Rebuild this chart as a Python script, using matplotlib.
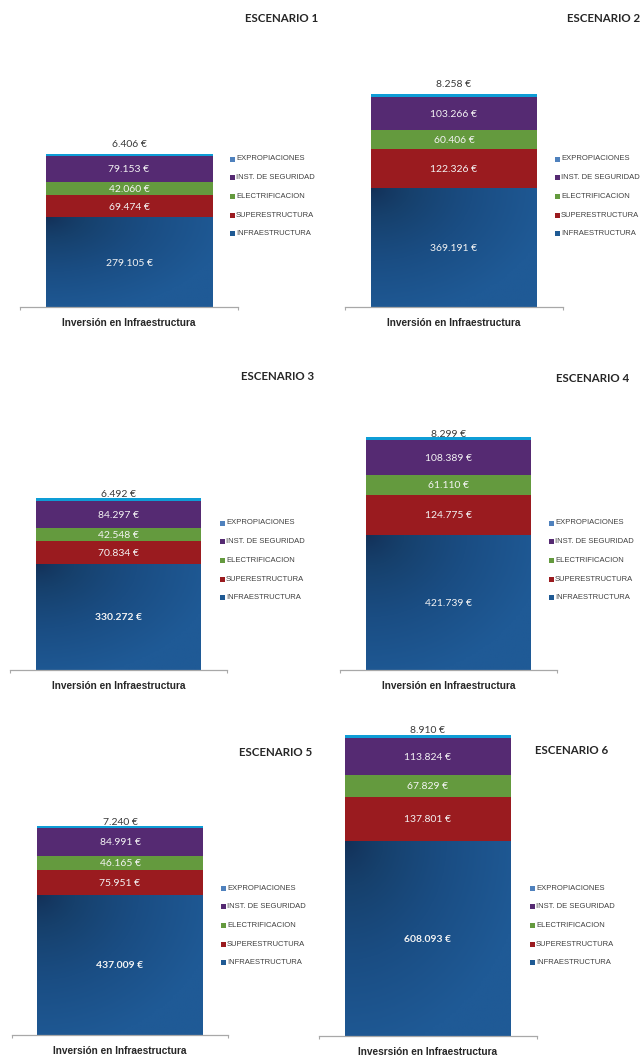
import numpy as np
import matplotlib
matplotlib.use("Agg")
import matplotlib.pyplot as plt
from matplotlib.patches import Rectangle
from matplotlib.colors import LinearSegmentedColormap

# ---------------------------------------------------------------- data
escenarios = ["ESCENARIO 1", "ESCENARIO 2", "ESCENARIO 3",
              "ESCENARIO 4", "ESCENARIO 5", "ESCENARIO 6"]
categorias = ["Inversión en Infraestructura"] * 5 + ["Invesrsión en Infraestructura"]

componentes = ["INFRAESTRUCTURA", "SUPERESTRUCTURA", "ELECTRIFICACION",
               "INST. DE SEGURIDAD", "EXPROPIACIONES"]

infraestructura = [279105, 369191, 330272, 421739, 437009, 608093]
superestructura = [69474, 122326, 70834, 124775, 75951, 137801]
electrificacion = [42060, 60406, 42548, 61110, 46165, 67829]
inst_seguridad = [79153, 103266, 84297, 108389, 84991, 113824]
expropiaciones = [6406, 8258, 6492, 8299, 7240, 8910]

# infrastructure value label drawn in bold in these scenarios
infra_negrita = [False, False, True, False, True, True]

# ---------------------------------------------------------------- styles
W, H = 640, 1057
UNITS_PER_PX = 3115.0          # common value scale of all six panels
AX_H = 320                     # axes height in pixels

col_super = "#9A1B1F"
col_elec = "#649A3E"
col_seg = "#552A72"
col_expro = "#0E9DD6"
grad_infra = LinearSegmentedColormap.from_list(
    "infra", ["#122E55", "#16406C", "#1A4D83", "#1F5A96"])
legend_cols = ["#4F81BD", col_seg, col_elec, col_super, "#1F5A94"]
legend_labels = componentes[::-1]

# panel layout in pixels: axis left, axis right, baseline, bar width,
# title centre, legend marker x / first row y, total label offset
paneles = [
    dict(x0=20, x1=238, base=307, bw=167, title=(282, 18), leg=(232, 159), off=11),
    dict(x0=345, x1=563, base=307, bw=166, title=(604, 18), leg=(557, 159), off=11),
    dict(x0=10, x1=227, base=670, bw=165, title=(278, 376), leg=(222, 523), off=5),
    dict(x0=340, x1=557, base=670, bw=165, title=(593, 378), leg=(551, 523), off=4),
    dict(x0=12, x1=228, base=1035, bw=166, title=(276, 752), leg=(223, 888), off=4),
    dict(x0=319, x1=537, base=1036, bw=166, title=(572, 751), leg=(532, 888), off=6),
]

FONT_NUM = ["Lato", "DejaVu Sans"]
FONT_AXIS = ["Liberation Sans", "DejaVu Sans"]
FONT_LEG = ["Liberation Sans Narrow", "Liberation Sans", "DejaVu Sans"]


def euros(v):
    return f"{v:,}".replace(",", ".") + " €"


fig = plt.figure(figsize=(W / 100, H / 100), dpi=100)
fig.patch.set_facecolor("white")

for i, p in enumerate(paneles):
    ax = fig.add_axes([p["x0"] / W, 1 - p["base"] / H,
                       (p["x1"] - p["x0"]) / W, AX_H / H])
    ax.patch.set_visible(False)
    bw = p["bw"] / (p["x1"] - p["x0"])

    serie = [infraestructura[i], superestructura[i], electrificacion[i],
             inst_seguridad[i], expropiaciones[i]]
    colores = [None, col_super, col_elec, col_seg, col_expro]

    bottom = 0
    for k, (v, c) in enumerate(zip(serie, colores)):
        if k == 0:
            bar = ax.bar(0, v, width=bw, bottom=bottom, color="#1A4F85",
                         linewidth=0, zorder=2)[0]
            nx = ny = 80
            xx, yy = np.meshgrid(np.linspace(0, 1, nx), np.linspace(0, 1, ny))
            t = np.clip(np.sqrt(xx ** 2 + yy ** 2) / 1.1, 0, 1) ** 0.7
            im = ax.imshow(t, cmap=grad_infra, origin="upper", aspect="auto",
                           extent=(-bw / 2, bw / 2, 0, v), zorder=2.1,
                           interpolation="bilinear")
            im.set_clip_path(bar)
        else:
            ax.bar(0, v, width=bw, bottom=bottom, color=c, linewidth=0, zorder=2)

        if k < 4:
            ax.text(0, bottom + v / 2, euros(v), ha="center", va="center_baseline",
                    color="#F4F4F4", fontsize=7.5, family=FONT_NUM,
                    weight="bold" if (k == 0 and infra_negrita[i]) else "normal",
                    zorder=4)
        else:
            ax.annotate(euros(v), xy=(0, bottom + v), xytext=(0, p["off"]),
                        textcoords="offset pixels", ha="center",
                        va="center_baseline", color="#3A3A3A", fontsize=7.5,
                        family=FONT_NUM, zorder=4)
        bottom += v

    ax.set_xlim(-0.5, 0.5)
    ax.set_ylim(0, AX_H * UNITS_PER_PX)
    for s in ("left", "right", "top"):
        ax.spines[s].set_visible(False)
    ax.spines["bottom"].set_color("#A8A8A8")
    ax.spines["bottom"].set_linewidth(0.9)
    ax.set_yticks([])
    ax.set_xticks([])
    ax.set_xticks([-0.5, 0.5], minor=True)
    ax.tick_params(axis="x", which="minor", length=2.5, width=0.8,
                   color="#A8A8A8", direction="out")
    ax.annotate(categorias[i], xy=(0, 0), xycoords=("data", "axes fraction"),
                xytext=(0, -16), textcoords="offset pixels", ha="center",
                va="center", fontsize=7.3, weight="bold", family=FONT_AXIS,
                color="#262626")

    # title
    tx, ty = p["title"]
    fig.text(tx / W, 1 - ty / H, escenarios[i], ha="center", va="center",
             fontsize=8.3, weight="bold", family=FONT_NUM, color="#262626")

    # legend
    lx, ly = p["leg"]
    for j, (lab, c) in enumerate(zip(legend_labels, legend_cols)):
        yy_px = ly + j * 18.7
        fig.patches.append(Rectangle(((lx - 2.5) / W, 1 - (yy_px + 2.5) / H),
                                     5 / W, 5 / H, transform=fig.transFigure,
                                     facecolor=c, edgecolor="none"))
        fig.text((lx + 4) / W, 1 - yy_px / H, lab, ha="left", va="center",
                 fontsize=5.5, family=FONT_LEG, color="#404040")

fig.savefig("out.png", dpi=100, facecolor="white")
